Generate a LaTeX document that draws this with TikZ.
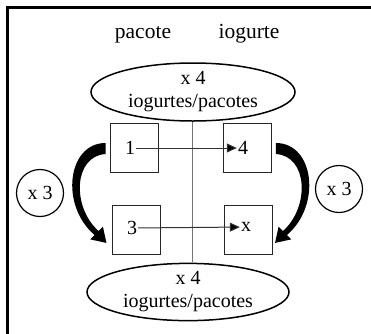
\documentclass[tikz,border=0pt]{standalone}
\usepackage{fontspec}
\setmainfont{Liberation Serif}
\usetikzlibrary{shapes.geometric,arrows.meta,calc}
\begin{document}
\begin{tikzpicture}[x=1pt,y=-1pt,
 box/.style={draw=black!85,line width=0.9pt,minimum width=48pt,minimum height=49pt,inner sep=0pt},
 num/.style={font=\fontsize{20}{24}\selectfont,inner sep=1pt},
 oval/.style={ellipse,draw,line width=1.5pt,inner sep=0pt,align=center,font=\fontsize{20}{23}\selectfont},
 mult/.style={circle,draw,line width=1.2pt,minimum size=47pt,inner sep=0pt,font=\fontsize{20}{24}\selectfont},
 head/.style={font=\fontsize{21.5}{26}\selectfont,inner sep=0pt},
 harrow/.style={draw=black!80,line width=1pt,-{Triangle[length=10pt,width=9pt,fill=black]}},
 divider/.style={draw=black!55,line width=0.9pt},
 bigarrow/.style={fill=black}
]
\useasboundingbox (0,0) rectangle (371,333);
\draw[line width=2.6pt,line join=miter] (7.5,334) -- (7.5,7.5) -- (372,7.5);

\node[head,anchor=base] (hp) at (143,38) {pacote};
\node[head,anchor=base] (hi) at (249,38) {iogurte};

\node[oval,minimum width=204pt,minimum height=58pt] (top) at (193,92) {x 4\\iogurtes/pacotes};
\node[oval,minimum width=202pt,minimum height=57pt] (bot) at (188,292) {x 4\\iogurtes/pacotes};

\draw[divider] (192,122) -- (192,262);

\node[box] (b1) at (134,148) {};
\node[box] (b4) at (247.5,148) {};
\node[box] (b3) at (136,230) {};
\node[box] (bx) at (248.5,230) {};

\node[num] (n1) at (130,148) {1};
\node[num] (n4) at (243,148) {4};
\node[num] (n3) at (132,228) {3};
\node[num] (nx) at (246,227) {x};

\draw[harrow] (n1) -- (n4);
\draw[harrow] (n3) -- (nx);

\node[mult] (ml) at (40,193) {x 3};
\node[mult] (mr) at (339,189) {x 3};

\begin{scope}[shift={(b1.west)}]
\fill[bigarrow] (-4,-5) .. controls (-42,-5) and (-50,57) .. (-15,87) -- (-19.36,91.36) -- (-3.1,94.9) -- (-6.64,78.64) -- (-11,83) .. controls (-38,59) and (-36,8) .. (-4,6) -- cycle;
\end{scope}
\begin{scope}[shift={(b4.east)},xscale=-1]
\fill[bigarrow] (-4,-5) .. controls (-42,-5) and (-50,57) .. (-15,87) -- (-19.36,91.36) -- (-3.1,94.9) -- (-6.64,78.64) -- (-11,83) .. controls (-38,59) and (-36,8) .. (-4,6) -- cycle;
\end{scope}
\end{tikzpicture}
\end{document}
